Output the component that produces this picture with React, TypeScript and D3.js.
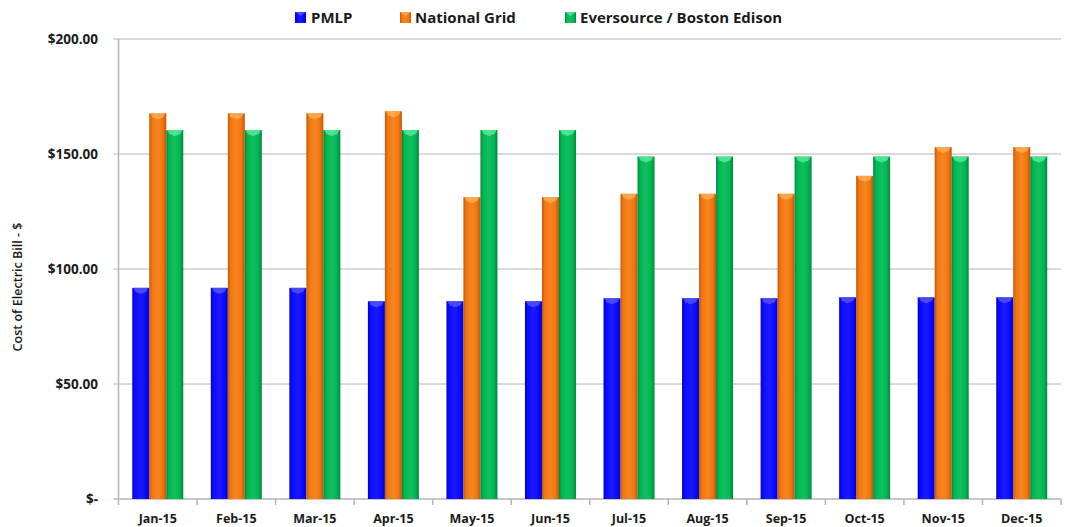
import React from "react";
import * as d3 from "d3";

const categories = ["Jan-15","Feb-15","Mar-15","Apr-15","May-15","Jun-15","Jul-15","Aug-15","Sep-15","Oct-15","Nov-15","Dec-15"];
const seriesNames = ["PMLP", "National Grid", "Eversource / Boston Edison"];
const pmlp = [91.8, 91.8, 91.8, 86.0, 86.0, 86.0, 87.3, 87.3, 87.3, 87.7, 87.7, 87.7];
const nationalGrid = [167.7, 167.7, 167.7, 168.6, 131.3, 131.3, 132.7, 132.7, 132.7, 140.5, 153.0, 153.0];
const eversource = [160.4, 160.4, 160.4, 160.4, 160.4, 160.4, 148.9, 148.9, 148.9, 148.9, 148.9, 148.9];
const yTicks = [0, 50, 100, 150, 200];
const yTickLabels = ["$-", "$50.00", "$100.00", "$150.00", "$200.00"];

const colors = [
  { id: "gBlue", edge: "#0000c8", mid: "#0a0aff", light: "#1a1aff", cap: "#5a5aff" },
  { id: "gOrange", edge: "#c45600", mid: "#f07512", light: "#f7861e", cap: "#ffb25a" },
  { id: "gGreen", edge: "#00893e", mid: "#00b552", light: "#10c060", cap: "#5ef0a0" },
];

export default function App() {
  const W = 1065, H = 527;
  const left = 118.5, right = 1061, top = 39, bottom = 499;
  const x0 = d3.scaleBand<string>().domain(categories).range([left, right]).paddingInner(0).paddingOuter(0);
  const groupW = 51;
  const x1 = d3.scaleBand<string>().domain(seriesNames).range([0, groupW]).padding(0);
  const y = d3.scaleLinear().domain([0, 200]).range([bottom, top]);
  const data = [pmlp, nationalGrid, eversource];
  const font = "'Open Sans', 'DejaVu Sans', sans-serif";

  return (
    <svg width={W} height={H} style={{ position: "absolute", left: 0, top: 0, background: "#fff" }} fontFamily={font}>
      <defs>
        {colors.map((c) => (
          <linearGradient key={c.id} id={c.id} x1="0" x2="1" y1="0" y2="0">
            <stop offset="0" stopColor={c.edge} />
            <stop offset="0.15" stopColor={c.mid} />
            <stop offset="0.5" stopColor={c.light} />
            <stop offset="0.8" stopColor={c.mid} />
            <stop offset="1" stopColor={c.edge} />
          </linearGradient>
        ))}
      </defs>
      {yTicks.filter((t) => t > 0).map((t) => (
        <line key={t} x1={left - 5} x2={right} y1={y(t)} y2={y(t)} stroke="#b4b4b4" strokeWidth={1} />
      ))}
      <line x1={left} x2={left} y1={top} y2={bottom} stroke="#b4b4b4" strokeWidth={1.5} />
      <line x1={left - 5} x2={right} y1={bottom} y2={bottom} stroke="#b4b4b4" strokeWidth={1.5} />
      {categories.map((c, i) => (
        <line key={"t" + i} x1={x0(c)!} x2={x0(c)!} y1={bottom} y2={bottom + 6} stroke="#b4b4b4" strokeWidth={1.5} />
      ))}
      <line x1={right} x2={right} y1={bottom} y2={bottom + 6} stroke="#b4b4b4" strokeWidth={1.5} />
      {yTicks.map((t, i) => (
        <text key={t} x={98} y={y(t)} dy="0.35em" textAnchor="end" fontSize={13.5} fontWeight={700} fill="#1a1a1a">
          {yTickLabels[i]}
        </text>
      ))}
      <text transform={`translate(22,287) rotate(-90)`} textAnchor="middle" fontSize={12.5} fontWeight={600} fill="#1a1a1a">
        Cost of Electric Bill - $
      </text>
      {categories.map((c, i) => {
        const gx = x0(c)! + (x0.bandwidth() - groupW) / 2;
        return (
          <g key={c} transform={`translate(${gx},0)`}>
            {seriesNames.map((s, j) => {
              const v = data[j][i];
              const bx = x1(s)!;
              const bw = x1.bandwidth();
              const by = y(v);
              const bh = bottom - by;
              const col = colors[j];
              return (
                <g key={s}>
                  <rect x={bx} y={by} width={bw} height={bh} fill={`url(#${col.id})`} />
                  <path
                    d={`M${bx + 1},${by} L${bx + bw - 1},${by} L${bx + bw - 3},${by + 4} L${bx + bw / 2},${by + 6} L${bx + 3},${by + 4} Z`}
                    fill={col.cap}
                    opacity={0.75}
                  />
                </g>
              );
            })}
          </g>
        );
      })}
      {categories.map((c) => (
        <text key={"l" + c} x={x0(c)! + x0.bandwidth() / 2} y={519} dy="0.35em" textAnchor="middle" fontSize={12.5} fontWeight={700} fill="#1a1a1a">
          {c}
        </text>
      ))}
      {[
        { name: seriesNames[0], mx: 295, tx: 311 },
        { name: seriesNames[1], mx: 400, tx: 415 },
        { name: seriesNames[2], mx: 565, tx: 580 },
      ].map((l, j) => (
        <g key={l.name}>
          <rect x={l.mx} y={12} width={11} height={11} fill={`url(#${colors[j].id})`} />
          <path d={`M${l.mx},12 L${l.mx + 11},12 L${l.mx + 5.5},16 Z`} fill={colors[j].cap} opacity={0.7} />
          <text x={l.tx} y={18} dy="0.35em" fontSize={15} fontWeight={700} fill="#1a1a1a">
            {l.name}
          </text>
        </g>
      ))}
    </svg>
  );
}
